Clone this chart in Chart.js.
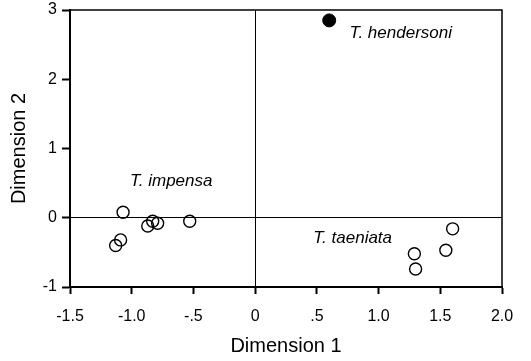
<!DOCTYPE html>
<html><head><meta charset="utf-8">
<script src="https://cdn.jsdelivr.net/npm/chart.js@4"></script>
<style>html,body{margin:0;padding:0;background:#fff}#wrap{width:531px;height:361px}</style>
</head><body><div id="wrap"><canvas id="c"></canvas></div>
<script>
const impensaX = [-1.07, -0.53, -0.87, -0.83, -0.79, -1.09, -1.13];
const impensaY = [0.08, -0.05, -0.12, -0.05, -0.08, -0.32, -0.40];
const taeniataX = [1.60, 1.545, 1.29, 1.30];
const taeniataY = [-0.16, -0.47, -0.52, -0.74];
const hendersoniX = [0.60];
const hendersoniY = [2.85];
const groupNames = ['T. hendersoni', 'T. impensa', 'T. taeniata'];
const groupLabelX = [1.18, -0.68, 0.79];
const groupLabelY = [2.67, 0.52, -0.30];
const xTicks = [-1.5, -1.0, -0.5, 0, 0.5, 1.0, 1.5, 2.0];
const xTickLabels = ['-1.5', '-1.0', '-.5', '0', '.5', '1.0', '1.5', '2.0'];
const yTicks = [-1, 0, 1, 2, 3];
const yTickLabels = ['-1', '0', '1', '2', '3'];

const pts = (xs, ys) => xs.map((x, i) => ({x, y: ys[i]}));
const FONT = "'Liberation Sans', Arial, sans-serif";

const framePlugin = {
  id: 'frame',
  afterDatasetsDraw(chart) {
    const {ctx, chartArea: a, scales} = chart;
    ctx.save();
    ctx.strokeStyle = '#000';
    ctx.lineWidth = 1.5;
    ctx.beginPath();
    ctx.moveTo(a.left, a.top); ctx.lineTo(a.right, a.top); ctx.lineTo(a.right, a.bottom);
    ctx.stroke();
    ctx.fillStyle = '#000';
    ctx.font = 'italic 17px ' + FONT;
    ctx.textAlign = 'center';
    ctx.textBaseline = 'middle';
    groupNames.forEach((n, i) => {
      ctx.fillText(n, scales.x.getPixelForValue(groupLabelX[i]), scales.y.getPixelForValue(groupLabelY[i]));
    });
    ctx.restore();
  }
};

const zeroColor = (c) => c.tick && c.tick.value === 0 ? '#000' : 'rgba(0,0,0,0)';

new Chart(document.getElementById('c'), {
  type: 'scatter',
  data: {
    datasets: [
      {label: 'T. impensa', data: pts(impensaX, impensaY), pointRadius: 6, pointBorderWidth: 1.4,
       pointBackgroundColor: 'rgba(255,255,255,0)', pointBorderColor: '#000'},
      {label: 'T. taeniata', data: pts(taeniataX, taeniataY), pointRadius: 6, pointBorderWidth: 1.4,
       pointBackgroundColor: 'rgba(255,255,255,0)', pointBorderColor: '#000'},
      {label: 'T. hendersoni', data: pts(hendersoniX, hendersoniY), pointRadius: 6.5, pointBorderWidth: 1,
       pointBackgroundColor: '#000', pointBorderColor: '#000'}
    ]
  },
  options: {
    responsive: true, maintainAspectRatio: false, animation: false,
    layout: {padding: {left: 0, right: 29, top: 10, bottom: 0}},
    plugins: {legend: {display: false}, tooltip: {enabled: false}},
    scales: {
      x: {
        type: 'linear', min: -1.5, max: 2.0,
        afterBuildTicks: (s) => { s.ticks = xTicks.map(v => ({value: v})); },
        afterFit: (s) => { s.height = 74; s.paddingLeft = 0; s.paddingRight = 0; },
        ticks: {color: '#000', font: {family: FONT, size: 16}, padding: 13, maxRotation: 0,
          callback: (v) => xTickLabels[xTicks.indexOf(v)]},
        grid: {color: zeroColor, lineWidth: 1, tickColor: '#000', tickLength: 7, tickWidth: 2},
        border: {display: true, color: '#000', width: 2},
        title: {display: true, text: 'Dimension 1', color: '#000', font: {family: FONT, size: 20}, padding: {top: 4, bottom: 3}}
      },
      y: {
        type: 'linear', min: -1, max: 3,
        afterBuildTicks: (s) => { s.ticks = yTicks.map(v => ({value: v})); },
        afterFit: (s) => { s.width = 70; s.paddingTop = 0; s.paddingBottom = 0; },
        ticks: {color: '#000', font: {family: FONT, size: 16}, padding: 5,
          callback: (v) => yTickLabels[yTicks.indexOf(v)]},
        grid: {color: zeroColor, lineWidth: 1, tickColor: '#000', tickLength: 8, tickWidth: 2},
        border: {display: true, color: '#000', width: 2},
        title: {display: true, text: 'Dimension 2', color: '#000', font: {family: FONT, size: 20}, padding: {top: 7, bottom: 4}}
      }
    }
  },
  plugins: [framePlugin]
});
</script></body></html>
